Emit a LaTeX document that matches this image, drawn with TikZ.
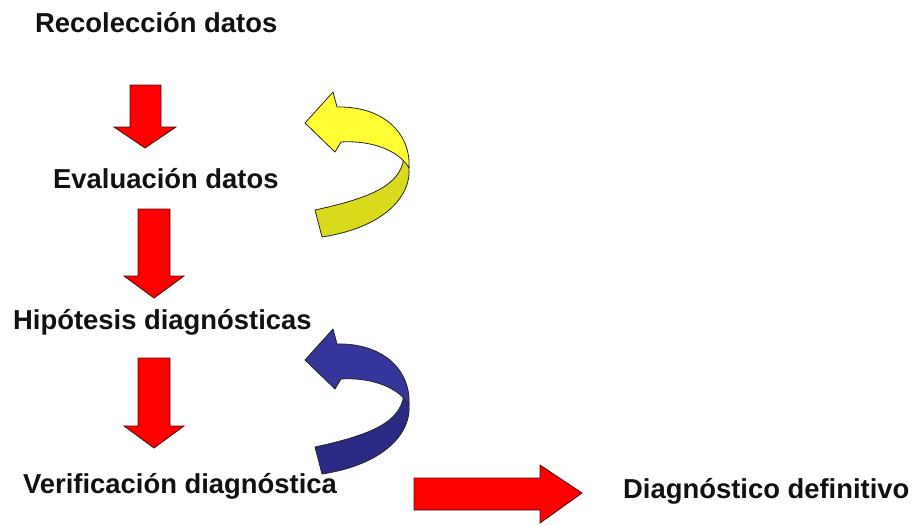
\documentclass[tikz,border=0pt]{standalone}
\usepackage{fontspec}
\setmainfont{Liberation Sans}
\definecolor{rojoflecha}{HTML}{FF0000}
\definecolor{bordeflecha}{HTML}{4A1010}
\definecolor{amarilloclaro}{HTML}{FFFF33}
\definecolor{amarillooscuro}{HTML}{DADA1C}
\definecolor{azulclaro}{HTML}{35359C}
\definecolor{azuloscuro}{HTML}{2A2A84}
\definecolor{texto}{HTML}{111111}

% flecha curva de vuelta: #1 cara superior, #2 cara inferior
\newcommand{\flechavuelta}[2]{%
  \filldraw[cinta,fill=#2] (404,152) .. controls (420,180) and (400,225) .. (322,237)
    -- (315,210) .. controls (370,198) and (405,185) .. (404,152) -- cycle;
  \filldraw[cinta,fill=#1] (305,123) -- (333,92) -- (337,107)
    .. controls (383,106) and (411,133) .. (409,168)
    .. controls (400,152) and (374,140) .. (341,142) -- (335,152) -- cycle;
}

\begin{document}
\begin{tikzpicture}[x=1pt,y=-1pt,
    etiqueta/.style={anchor=base west,inner sep=0pt,text=texto,font=\fontsize{27.4}{30}\selectfont\bfseries},
    bloque/.style={fill=rojoflecha,draw=bordeflecha,line width=0.8pt,line join=miter},
    cinta/.style={draw=black!85,line width=0.8pt,line join=round}]
  \useasboundingbox (0,0) rectangle (916,525);

  \node[etiqueta] (recoleccion) at (35,32) {Recolección datos};
  \node[etiqueta] (evaluacion) at (53,188) {Evaluación datos};
  \node[etiqueta] (hipotesis) at (13,329) {Hipótesis diagnósticas};
  \node[etiqueta] (verificacion) at (23,493) {Verificación diagnóstica};
  \node[etiqueta] (definitivo) at (623,498) {Diagnóstico definitivo};

  % flechas rojas
  \filldraw[bloque] (130,85) -- (161,85) -- (161,127) -- (176,127) -- (145,148) -- (114,127) -- (130,127) -- cycle;
  \filldraw[bloque] (138,209) -- (170,209) -- (170,276) -- (184,276) -- (154,298) -- (124,276) -- (138,276) -- cycle;
  \filldraw[bloque] (138,358) -- (170,358) -- (170,426) -- (184,426) -- (154,448) -- (124,426) -- (138,426) -- cycle;
  \filldraw[bloque] (414,478) -- (540,478) -- (540,465) -- (582,493) -- (540,523) -- (540,510) -- (414,510) -- cycle;

  % flechas de vuelta
  \flechavuelta{amarilloclaro}{amarillooscuro}
  \begin{scope}[shift={(0,237)}]
    \flechavuelta{azulclaro}{azuloscuro}
  \end{scope}
\end{tikzpicture}
\end{document}
